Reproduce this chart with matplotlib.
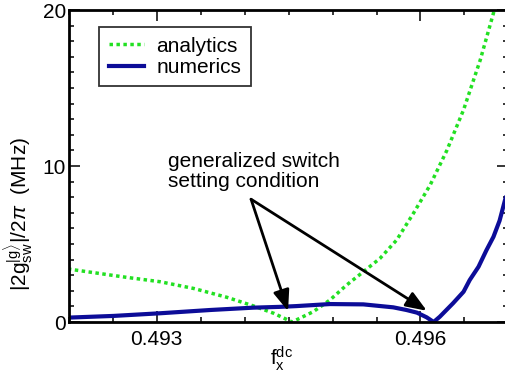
import matplotlib
matplotlib.use("Agg")
import matplotlib.pyplot as plt
from matplotlib.ticker import MultipleLocator, FixedLocator

# -------------------------------
# data
# -------------------------------
analytics_x = [0.49199, 0.49266, 0.49304, 0.49342, 0.49380, 0.49410, 0.49433,
               0.49454, 0.49478, 0.49497, 0.49516, 0.49535, 0.49554, 0.49573,
               0.49592, 0.49611, 0.49630, 0.49649, 0.49668, 0.49683, 0.49687]
analytics_y = [3.40, 2.86, 2.58, 2.15, 1.58, 1.03, 0.56,
               0.00, 0.66, 1.41, 2.37, 3.22, 4.08, 5.26,
               6.97, 8.78, 11.0, 13.6, 16.8, 19.8, 20.6]

numerics_x = [0.49199, 0.49251, 0.49304, 0.49361, 0.49410, 0.49440, 0.49459,
              0.49497, 0.49535, 0.49569, 0.49584, 0.49596, 0.49607, 0.49615,
              0.49622, 0.49637, 0.49649, 0.49656, 0.49666, 0.49675, 0.49683,
              0.49690, 0.49697, 0.49700]
numerics_y = [0.28, 0.39, 0.56, 0.77, 0.92, 0.97, 1.02,
              1.15, 1.13, 0.94, 0.77, 0.60, 0.30, 0.00,
              0.34, 1.20, 1.94, 2.69, 3.54, 4.60, 5.46,
              6.50, 8.00, 8.20]

xticks = [0.493, 0.496]
xtick_labels = ["0.493", "0.496"]
yticks = [0, 10, 20]

note_text = "generalized switch\nsetting condition"
note_xy = (0.49313, 10.9)
arrow_start = (0.494073, 7.87)
arrow_tips = [(0.494494, 0.70), (0.496072, 0.72)]

# -------------------------------
# style
# -------------------------------
plt.rcParams["font.family"] = ["Liberation Sans", "DejaVu Sans"]
plt.rcParams["mathtext.fontset"] = "custom"
plt.rcParams["mathtext.rm"] = "Liberation Sans"
plt.rcParams["mathtext.it"] = "Liberation Sans:italic"
plt.rcParams["font.size"] = 15

fig = plt.figure(figsize=(5.06, 3.77), dpi=100)
W, H = 506, 377
ax = fig.add_axes([68.8 / W, 1 - 322 / H, 439.6 / W, 312 / H])

ax.plot(analytics_x, analytics_y, color="#22e022", lw=2.5,
        linestyle=(0, (1, 1.0)), label="analytics")
ax.plot(numerics_x, numerics_y, color="#0c0c98", lw=3.0, label="numerics")

ax.set_xlim(0.492, 0.497)
ax.set_ylim(0, 20)

ax.xaxis.set_major_locator(FixedLocator(xticks))
ax.set_xticklabels(xtick_labels)
ax.xaxis.set_minor_locator(MultipleLocator(0.0005))
ax.yaxis.set_major_locator(FixedLocator(yticks))
ax.yaxis.set_minor_locator(MultipleLocator(1))

ax.tick_params(which="both", direction="in", top=True, right=True, width=1.1)
ax.tick_params(which="major", length=7.7)
ax.tick_params(which="minor", length=3.6)
ax.tick_params(axis="y", pad=2)
ax.tick_params(axis="x", pad=6)
for sp in ax.spines.values():
    sp.set_linewidth(2)

ax.set_ylabel(r"$|\mathrm{2g}_{\mathrm{sw}}^{|\mathrm{g}\rangle}|/\mathrm{2}\pi$  (MHz)")
ax.yaxis.set_label_coords(-0.078, 0.345)
ax.set_xlabel(r"$\mathrm{f}_{\mathrm{x}}^{\mathrm{dc}}$")
ax.xaxis.set_label_coords(0.483, -0.07)
ax.xaxis.label.set_verticalalignment("top")

leg = ax.legend(loc="upper left", bbox_to_anchor=(0.069, 0.945),
                frameon=True, fancybox=False, handlelength=1.7,
                handletextpad=0.6, borderpad=0.45, labelspacing=0.12,
                borderaxespad=0)
leg.get_frame().set_edgecolor("black")
leg.get_frame().set_linewidth(1.3)

ax.text(note_xy[0], note_xy[1], note_text, ha="left", va="top",
        linespacing=1.05)
for tip in arrow_tips:
    ax.annotate("", xy=tip, xytext=arrow_start,
                arrowprops=dict(arrowstyle="-|>,head_length=0.9,head_width=0.35",
                                color="black", lw=2, shrinkA=0, shrinkB=0,
                                mutation_scale=14))

fig.savefig("out.png", dpi=100)
